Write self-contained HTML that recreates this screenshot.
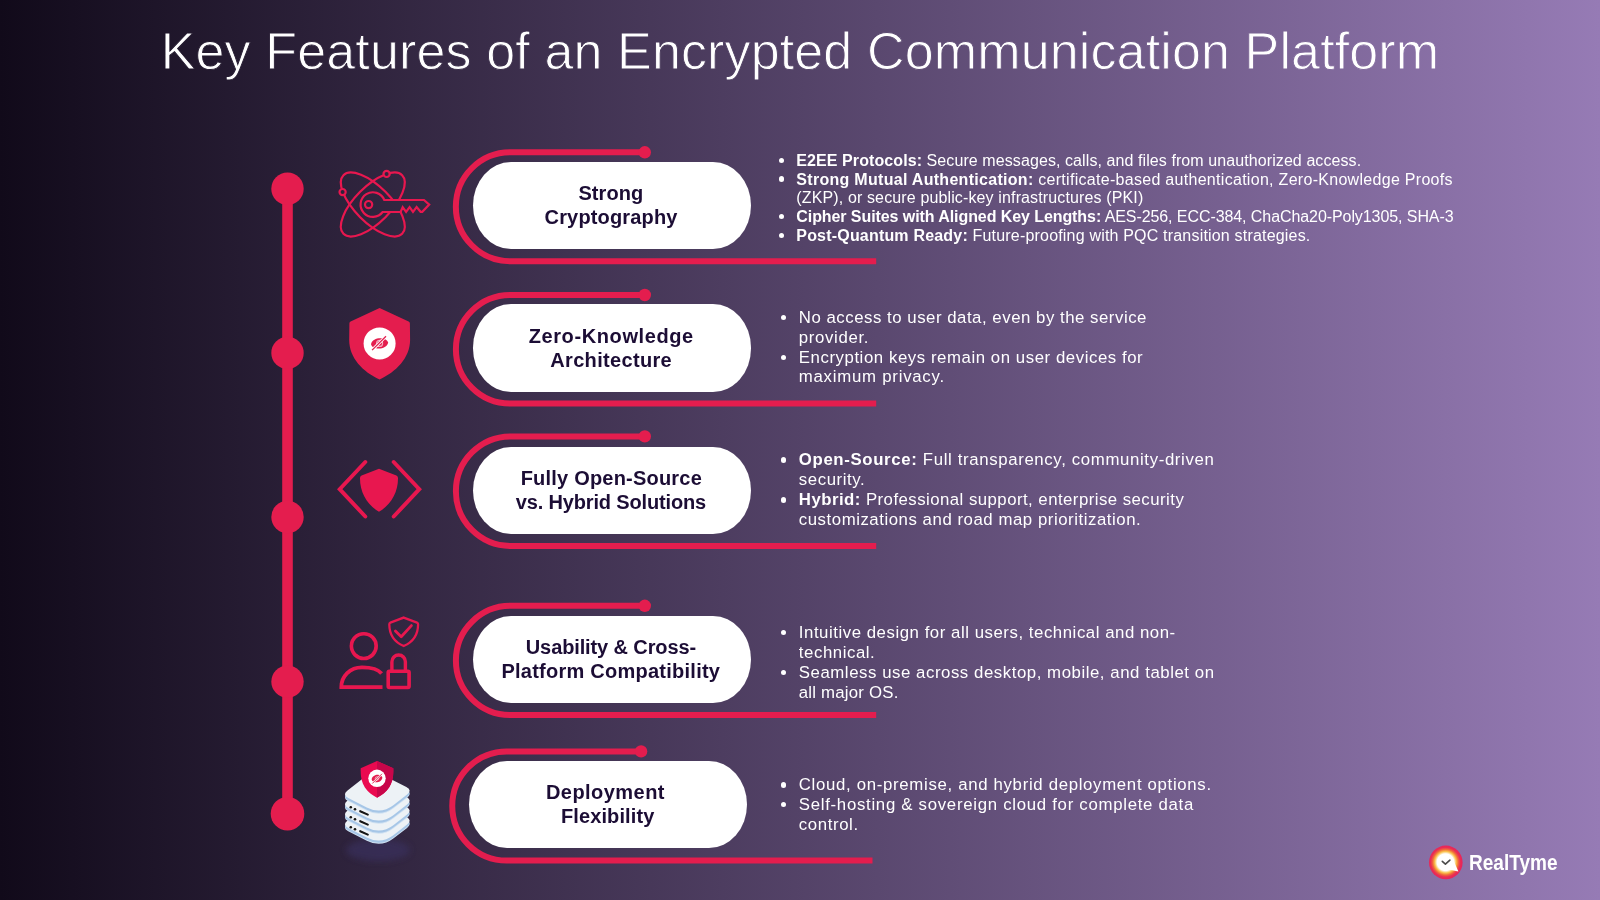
<!DOCTYPE html>
<html><head><meta charset="utf-8"><style>
html,body{margin:0;padding:0}
body{width:1600px;height:900px;position:relative;overflow:hidden;background:linear-gradient(to right,#110a1a 0%,#967bb5 100%);font-family:"Liberation Sans",sans-serif}
.title{position:absolute;left:0;width:1600px;top:25px;text-align:center;color:#fff;font-size:52px;line-height:52px;letter-spacing:0.135px;white-space:nowrap}
.pill{position:absolute;background:#fff;border-radius:38px/43.5px}
.pt{position:absolute;white-space:nowrap;color:#1c0d35;font-weight:bold;font-size:20px;line-height:20px}
.bl{position:absolute;white-space:nowrap;color:#fff}
.tx{position:absolute;left:0;top:0;width:1600px;height:900px;will-change:transform}
.dot{position:absolute;width:5.4px;height:5.4px;border-radius:50%;background:#fff}
svg.ov{position:absolute;left:0;top:0}
</style></head><body>
<svg class="ov" width="1600" height="900" viewBox="0 0 1600 900">
<rect x="282.2" y="188" width="10.6" height="626" fill="#e41d4e"/>
<circle cx="287.5" cy="188.7" r="16.2" fill="#e41d4e"/><circle cx="287.5" cy="352.9" r="16.2" fill="#e41d4e"/><circle cx="287.5" cy="517.0" r="16.2" fill="#e41d4e"/><circle cx="287.5" cy="681.6" r="16.2" fill="#e41d4e"/><circle cx="287.5" cy="813.7" r="16.8" fill="#e41d4e"/>
<path d="M644.8 152.3H510.3A54.45 54.45 0 0 0 510.3 261.2H876.2" fill="none" stroke="#e41d4e" stroke-width="6"/>
<circle cx="644.8" cy="152.3" r="6.2" fill="#e41d4e"/>
<path d="M644.8 295.0H510.2A54.30 54.30 0 0 0 510.2 403.6H876.2" fill="none" stroke="#e41d4e" stroke-width="6"/>
<circle cx="644.8" cy="295.0" r="6.2" fill="#e41d4e"/>
<path d="M644.8 436.4H510.7A54.80 54.80 0 0 0 510.7 546.0H876.2" fill="none" stroke="#e41d4e" stroke-width="6"/>
<circle cx="644.8" cy="436.4" r="6.2" fill="#e41d4e"/>
<path d="M644.8 605.8H510.5A54.60 54.60 0 0 0 510.5 715.0H876.2" fill="none" stroke="#e41d4e" stroke-width="6"/>
<circle cx="644.8" cy="605.8" r="6.2" fill="#e41d4e"/>
<path d="M641.1 751.4H506.8A54.60 54.60 0 0 0 506.8 860.6H872.5" fill="none" stroke="#e41d4e" stroke-width="6"/>
<circle cx="641.1" cy="751.4" r="6.2" fill="#e41d4e"/>
<defs>
<linearGradient id="bg" gradientUnits="userSpaceOnUse" x1="0" y1="0" x2="1600" y2="0"><stop offset="0" stop-color="#110a1a"/><stop offset="1" stop-color="#967bb5"/></linearGradient>
<filter id="blur4" x="-20%" y="-20%" width="140%" height="140%"><feGaussianBlur stdDeviation="0.75"/></filter>
<filter id="slabblur" x="-20%" y="-20%" width="140%" height="140%"><feGaussianBlur stdDeviation="0.5"/></filter>
<filter id="shblur" x="-50%" y="-50%" width="200%" height="200%"><feGaussianBlur stdDeviation="3"/></filter>
</defs>
<!-- icon 1: atom + key -->
<g fill="none" stroke="#e8174f" stroke-width="2.2">
<ellipse cx="372.8" cy="204.5" rx="41.5" ry="17.9" transform="rotate(45 372.8 204.5)"/>
<ellipse cx="372.8" cy="204.5" rx="41.5" ry="17.9" transform="rotate(-45 372.8 204.5)"/>
<circle cx="342.6" cy="192.1" r="3.1" fill="url(#bg)"/>
<circle cx="386.6" cy="173.9" r="3.1" fill="url(#bg)"/>
<path d="M384.3 200H424L429.2 204.6L422.3 211.8H420.6L416.6 207.1L413 211.8L409.6 207.1L406.1 211.8L402.7 207.1L400.6 212H382.7A12.3 12.3 0 1 1 384.3 200Z" fill="url(#bg)" stroke-linejoin="miter"/>
<circle cx="368.6" cy="204.6" r="3.6"/>
</g>
<!-- icon 2: shield eye -->
<path d="M379.6 307.9L408.6 321.4Q409.9 322 409.9 323.5L410.1 340C410 358 396 372 379.6 379.4C363 372 349.2 358 349.2 340L349.4 323.5Q349.4 322 350.6 321.4Z" fill="#e41d4e"/>
<circle cx="379.6" cy="343.4" r="16" fill="#fff"/>
<path d="M371 344.2C372.5 336.5 386.5 336.5 388.2 342.6C386.5 350.3 372.5 350.3 371 344.2Z" fill="#e41d4e"/>
<circle cx="379.6" cy="343.4" r="3" fill="none" stroke="#f3a9bd" stroke-width="1.2"/>
<path d="M372.1 350.1L386 336.3" stroke="#fff" stroke-width="3"/>
<path d="M372.1 350.1L386 336.3" stroke="#e41d4e" stroke-width="1.3"/>
<!-- icon 3: code shield -->
<g fill="none" stroke="#e8174f" stroke-width="3.9" stroke-linecap="round" stroke-linejoin="miter">
<path d="M365.3 462L339.7 489.2L365.3 516.5"/>
<path d="M393.7 462L419.3 489.2L393.7 516.5"/>
</g>
<path d="M379 468.8Q388 472.3 396.4 475.6Q398 476.3 398 478C398.2 492 391 505 379 511.8C367 505 359.8 492 360 478Q360 476.3 361.6 475.6Q370 472.3 379 468.8Z" fill="#e8174f"/>
<!-- icon 4: user lock shield -->
<g fill="none" stroke="#e8174f" filter="url(#blur4)">
<circle cx="363.8" cy="646.1" r="12.4" stroke-width="3.6"/>
<path d="M382.5 687.2H341.3C341.3 676 350 667.3 362 667.3C371 667.3 378.5 669.5 381.6 673.5" stroke-width="3.8"/>
<rect x="388.2" y="671.2" width="20.9" height="16.3" rx="1.2" stroke-width="3.6"/>
<path d="M391.9 671.2V661.8A6.75 6.75 0 0 1 405.4 661.8V671.2" stroke-width="3.4"/>
</g>
<g fill="none" stroke="#e8174f">
<path d="M403.7 617.6L417 622.6Q418.2 623.1 418.1 624.5C418 636 412 642.5 403.7 646C395.4 642.5 389.4 636 389.3 624.5Q389.2 623.1 390.4 622.6Z" stroke-width="2.3"/>
<path d="M395.4 630.9L401.2 636.7L411.4 625.6" stroke-width="2.8" stroke-linecap="round" stroke-linejoin="round"/>
</g>

<!-- icon 5 -->
<ellipse cx="378" cy="850" rx="32" ry="11" fill="#3a3262" opacity="0.6" filter="url(#shblur)"/>
<g filter="url(#slabblur)">
<path d="M347.54 823.72L362.52 812.16Q373.60 803.60 386.06 809.99L406.37 820.41Q412.60 823.60 407.06 827.88L393.66 838.22Q381.00 848.00 366.76 840.70L348.23 831.19Q342.00 828.00 347.54 823.72Z" fill="#cfe1f2"/>
<path d="M347.54 822.72L362.52 811.16Q373.60 802.60 386.06 808.99L406.37 819.41Q412.60 822.60 407.06 826.88L393.66 837.22Q381.00 847.00 366.76 839.70L348.23 830.19Q342.00 827.00 347.54 822.72Z" fill="#a6c6e7"/>
<path d="M347.54 820.42L362.52 808.86Q373.60 800.30 386.06 806.69L406.37 817.11Q412.60 820.30 407.06 824.58L393.66 834.92Q381.00 844.70 366.76 837.40L348.23 827.89Q342.00 824.70 347.54 820.42Z" fill="#edf2f6"/>
<g fill="#141414"><circle cx="350.8" cy="827.3" r="1.3"/><circle cx="355.0" cy="829.2" r="1.3"/></g><path d="M360.2 831.2L367.8 834.6" stroke="#141414" stroke-width="2.1" stroke-linecap="round"/>
<path d="M347.54 813.72L362.52 802.16Q373.60 793.60 386.06 799.99L406.37 810.41Q412.60 813.60 407.06 817.88L393.66 828.22Q381.00 838.00 366.76 830.70L348.23 821.19Q342.00 818.00 347.54 813.72Z" fill="#cfe1f2"/>
<path d="M347.54 812.72L362.52 801.16Q373.60 792.60 386.06 798.99L406.37 809.41Q412.60 812.60 407.06 816.88L393.66 827.22Q381.00 837.00 366.76 829.70L348.23 820.19Q342.00 817.00 347.54 812.72Z" fill="#a6c6e7"/>
<path d="M347.54 810.42L362.52 798.86Q373.60 790.30 386.06 796.69L406.37 807.11Q412.60 810.30 407.06 814.58L393.66 824.92Q381.00 834.70 366.76 827.40L348.23 817.89Q342.00 814.70 347.54 810.42Z" fill="#edf2f6"/>
<g fill="#141414"><circle cx="350.8" cy="817.3" r="1.3"/><circle cx="355.0" cy="819.2" r="1.3"/></g><path d="M360.2 821.2L367.8 824.6" stroke="#141414" stroke-width="2.1" stroke-linecap="round"/>
<path d="M347.54 803.72L362.52 792.16Q373.60 783.60 386.06 789.99L406.37 800.41Q412.60 803.60 407.06 807.88L393.66 818.22Q381.00 828.00 366.76 820.70L348.23 811.19Q342.00 808.00 347.54 803.72Z" fill="#cfe1f2"/>
<path d="M347.54 802.72L362.52 791.16Q373.60 782.60 386.06 788.99L406.37 799.41Q412.60 802.60 407.06 806.88L393.66 817.22Q381.00 827.00 366.76 819.70L348.23 810.19Q342.00 807.00 347.54 802.72Z" fill="#a6c6e7"/>
<path d="M347.54 800.42L362.52 788.86Q373.60 780.30 386.06 786.69L406.37 797.11Q412.60 800.30 407.06 804.58L393.66 814.92Q381.00 824.70 366.76 817.40L348.23 807.89Q342.00 804.70 347.54 800.42Z" fill="#edf2f6"/>
<g fill="#141414"><circle cx="350.8" cy="807.3" r="1.3"/><circle cx="355.0" cy="809.2" r="1.3"/></g><path d="M360.2 811.2L367.8 814.6" stroke="#141414" stroke-width="2.1" stroke-linecap="round"/>
<path d="M347.54 793.72L362.52 782.16Q373.60 773.60 386.06 779.99L406.37 790.41Q412.60 793.60 407.06 797.88L393.66 808.22Q381.00 818.00 366.76 810.70L348.23 801.19Q342.00 798.00 347.54 793.72Z" fill="#cfe1f2"/>
<path d="M347.54 792.72L362.52 781.16Q373.60 772.60 386.06 778.99L406.37 789.41Q412.60 792.60 407.06 796.88L393.66 807.22Q381.00 817.00 366.76 809.70L348.23 800.19Q342.00 797.00 347.54 792.72Z" fill="#a6c6e7"/>
<path d="M347.54 790.42L362.52 778.86Q373.60 770.30 386.06 776.69L406.37 787.11Q412.60 790.30 407.06 794.58L393.66 804.92Q381.00 814.70 366.76 807.40L348.23 797.89Q342.00 794.70 347.54 790.42Z" fill="#edf2f6"/>
</g><path d="M377 761L393.3 768.3C394 784 388 792 377 797.7C366 792 360 784 360.7 768.3Z" fill="#ea0a50"/>
<path d="M377 761L393.3 768.3C394 784 388 792 377 797.7Z" fill="#c8064a"/>
<circle cx="377" cy="778.3" r="8.7" fill="#fff"/>
<path d="M371.6 779.2C372.6 773.6 381.6 773.2 382.4 777.8C381.4 783.4 372.4 783.8 371.6 779.2Z" fill="#e41d4e"/>
<circle cx="377" cy="778.5" r="1.8" fill="none" stroke="#f3a9bd" stroke-width="0.8"/>
<path d="M372.3 783.5L382 773.8" stroke="#fff" stroke-width="1.8"/>
<path d="M372.3 783.5L382 773.8" stroke="#e41d4e" stroke-width="0.9"/>

<text x="800" y="69" text-anchor="middle" font-family="Liberation Sans" font-size="52" fill="#fff" stroke="url(#bg)" stroke-width="0.9" style="letter-spacing:0.135px">Key Features of an Encrypted Communication Platform</text>
</svg>
<div class="tx">
<div class="pill" style="left:472.5px;top:161.7px;width:278px;height:87.0px"></div><div class="pt" style="left:578.4px;top:183.07px;letter-spacing:0.072px">Strong</div><div class="pt" style="left:544.6px;top:207.17px;letter-spacing:0.152px">Cryptography</div><div class="pill" style="left:472.5px;top:304.4px;width:278px;height:87.2px"></div><div class="pt" style="left:528.7px;top:325.77px;letter-spacing:0.602px">Zero-Knowledge</div><div class="pt" style="left:550.3px;top:349.87px;letter-spacing:0.326px">Architecture</div><div class="pill" style="left:472.5px;top:446.7px;width:278px;height:86.9px"></div><div class="pt" style="left:520.7px;top:468.07px;letter-spacing:0.205px">Fully Open-Source</div><div class="pt" style="left:515.7px;top:492.17px;letter-spacing:-0.150px">vs. Hybrid Solutions</div><div class="pill" style="left:472.5px;top:615.9px;width:278px;height:86.8px"></div><div class="pt" style="left:525.8px;top:637.27px;letter-spacing:-0.116px">Usability &amp; Cross-</div><div class="pt" style="left:501.4px;top:661.37px;letter-spacing:0.250px">Platform Compatibility</div><div class="pill" style="left:468.8px;top:760.9px;width:278px;height:87.1px"></div><div class="pt" style="left:545.9px;top:782.27px;letter-spacing:0.459px">Deployment</div><div class="pt" style="left:560.9px;top:806.37px;letter-spacing:0.125px">Flexibility</div>
<div class="bl" style="left:796.3px;top:152.91px;font-size:16px;line-height:16px;letter-spacing:0.086px"><b>E2EE Protocols:</b> Secure messages, calls, and files from unauthorized access.</div>
<div class="dot" style="left:779.05px;top:157.75px"></div>
<div class="bl" style="left:796.3px;top:171.56px;font-size:16px;line-height:16px;letter-spacing:0.293px"><b>Strong Mutual Authentication:</b> certificate-based authentication, Zero-Knowledge Proofs</div>
<div class="dot" style="left:779.05px;top:176.40px"></div>
<div class="bl" style="left:796.3px;top:190.26px;font-size:16px;line-height:16px;letter-spacing:0.134px">(ZKP), or secure public-key infrastructures (PKI)</div>
<div class="bl" style="left:796.3px;top:208.96px;font-size:16px;line-height:16px;letter-spacing:-0.078px"><b>Cipher Suites with Aligned Key Lengths:</b> AES-256, ECC-384, ChaCha20-Poly1305, SHA-3</div>
<div class="dot" style="left:779.05px;top:213.80px"></div>
<div class="bl" style="left:796.3px;top:227.66px;font-size:16px;line-height:16px;letter-spacing:0.189px"><b>Post-Quantum Ready:</b> Future-proofing with PQC transition strategies.</div>
<div class="dot" style="left:779.05px;top:232.50px"></div>
<div class="bl" style="left:798.8px;top:309.78px;font-size:16.8px;line-height:16.8px;letter-spacing:0.525px">No access to user data, even by the service</div>
<div class="dot" style="left:780.90px;top:314.80px"></div>
<div class="bl" style="left:798.8px;top:329.68px;font-size:16.8px;line-height:16.8px;letter-spacing:0.666px">provider.</div>
<div class="bl" style="left:798.8px;top:349.58px;font-size:16.8px;line-height:16.8px;letter-spacing:0.562px">Encryption keys remain on user devices for</div>
<div class="dot" style="left:780.90px;top:354.60px"></div>
<div class="bl" style="left:798.8px;top:369.48px;font-size:16.8px;line-height:16.8px;letter-spacing:0.755px">maximum privacy.</div>
<div class="bl" style="left:798.8px;top:452.28px;font-size:16.8px;line-height:16.8px;letter-spacing:0.642px"><b>Open-Source:</b> Full transparency, community-driven</div>
<div class="dot" style="left:780.90px;top:457.30px"></div>
<div class="bl" style="left:798.8px;top:472.08px;font-size:16.8px;line-height:16.8px;letter-spacing:0.583px">security.</div>
<div class="bl" style="left:798.8px;top:492.28px;font-size:16.8px;line-height:16.8px;letter-spacing:0.462px"><b>Hybrid:</b> Professional support, enterprise security</div>
<div class="dot" style="left:780.90px;top:497.30px"></div>
<div class="bl" style="left:798.8px;top:512.08px;font-size:16.8px;line-height:16.8px;letter-spacing:0.545px">customizations and road map prioritization.</div>
<div class="bl" style="left:798.8px;top:624.98px;font-size:16.8px;line-height:16.8px;letter-spacing:0.543px">Intuitive design for all users, technical and non-</div>
<div class="dot" style="left:780.90px;top:630.00px"></div>
<div class="bl" style="left:798.8px;top:644.78px;font-size:16.8px;line-height:16.8px;letter-spacing:0.566px">technical.</div>
<div class="bl" style="left:798.8px;top:664.68px;font-size:16.8px;line-height:16.8px;letter-spacing:0.554px">Seamless use across desktop, mobile, and tablet on</div>
<div class="dot" style="left:780.90px;top:669.70px"></div>
<div class="bl" style="left:798.8px;top:684.58px;font-size:16.8px;line-height:16.8px;letter-spacing:0.210px">all major OS.</div>
<div class="bl" style="left:798.8px;top:777.28px;font-size:16.8px;line-height:16.8px;letter-spacing:0.680px">Cloud, on-premise, and hybrid deployment options.</div>
<div class="dot" style="left:780.90px;top:782.30px"></div>
<div class="bl" style="left:798.8px;top:796.98px;font-size:16.8px;line-height:16.8px;letter-spacing:0.712px">Self-hosting &amp; sovereign cloud for complete data</div>
<div class="dot" style="left:780.90px;top:802.00px"></div>
<div class="bl" style="left:798.8px;top:816.68px;font-size:16.8px;line-height:16.8px;letter-spacing:0.610px">control.</div>
<svg style="position:absolute;left:1420px;top:836px" width="60" height="54" viewBox="1420 836 60 54">
<defs><radialGradient id="lg" gradientUnits="userSpaceOnUse" cx="1445.5" cy="862.2" r="16.8"><stop offset="0" stop-color="#fff"/><stop offset="0.5" stop-color="#fff"/><stop offset="0.64" stop-color="#f9c04a"/><stop offset="0.76" stop-color="#f06a3a"/><stop offset="0.88" stop-color="#e92d55"/><stop offset="1" stop-color="#e8245a"/></radialGradient></defs>
<circle cx="1445.8" cy="862.4" r="16.8" fill="url(#lg)"/>
<path d="M1448.5 869.5L1458.4 871.6L1454 861.5Z" fill="#fff"/>
<path d="M1442.3 861.4L1445.4 864.2L1449.9 860.1" fill="none" stroke="#4a4a4a" stroke-width="1.6" stroke-linecap="round" stroke-linejoin="round"/>
</svg>
<div style="position:absolute;left:1468.5px;top:852.6px;font-size:21.5px;line-height:21.5px;font-weight:bold;color:#fff;white-space:nowrap;transform:scaleX(0.886);transform-origin:0 0">RealTyme</div>

</div>
</body></html>
